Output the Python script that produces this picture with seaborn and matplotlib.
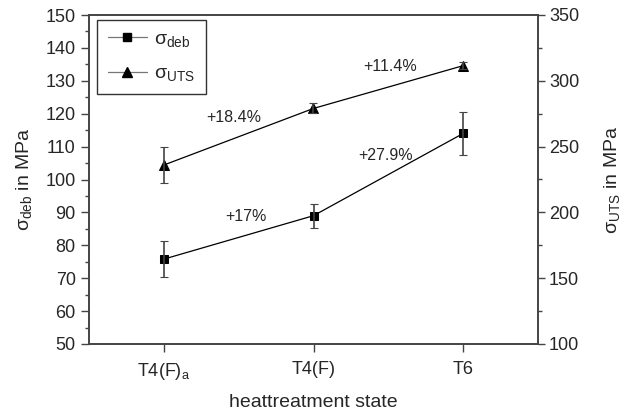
import matplotlib
matplotlib.use("Agg")
import matplotlib.pyplot as plt
import seaborn as sns
import pandas as pd
import numpy as np
from matplotlib.lines import Line2D
from matplotlib.ticker import MultipleLocator

sns.set_style("ticks")
plt.rcParams['font.family'] = ['Liberation Sans', 'DejaVu Sans']
plt.rcParams['mathtext.fontset'] = 'custom'
plt.rcParams['mathtext.rm'] = 'Liberation Sans'
plt.rcParams['mathtext.it'] = 'Liberation Sans:italic'

states = ["T4(F)$_{\\mathregular{a}}$", "T4(F)", "T6"]
sigma_deb = [75.8, 89.0, 114.0]
sigma_deb_err = [5.5, 3.6, 6.6]
sigma_uts = [236.0, 279.0, 311.5]
sigma_uts_err = [14.0, 3.8, 2.5]
deb_labels = ["+17%", "+27.9%"]
uts_labels = ["+18.4%", "+11.4%"]

df = pd.DataFrame({"state": states, "deb": sigma_deb, "deb_err": sigma_deb_err,
                   "uts": sigma_uts, "uts_err": sigma_uts_err})
df["pos"] = np.arange(len(df))

fig = plt.figure(figsize=(6.34, 4.16), dpi=100)
ax = fig.add_axes([89/634, 1-344/416, (538-89)/634, (344-15)/416])
ax2 = ax.twinx()

sns.lineplot(data=df, x="pos", y="deb", ax=ax, color="black", lw=0.9,
             marker="s", markersize=6, markeredgecolor="black", legend=False)
ax.errorbar(df["pos"], df["deb"], yerr=df["deb_err"], fmt="none",
            ecolor="#444444", elinewidth=1.2, capsize=3, capthick=0.8)

sns.lineplot(data=df, x="pos", y="uts", ax=ax2, color="black", lw=0.9,
             marker="^", markersize=7, markeredgecolor="black", legend=False)
ax2.errorbar(df["pos"], df["uts"], yerr=df["uts_err"], fmt="none",
             ecolor="#444444", elinewidth=1.2, capsize=3, capthick=0.8)

ax.set_xlim(-0.5, 2.5)
ax.set_ylim(50, 150)
ax2.set_ylim(100, 350)
ax.set_xticks(df["pos"])
ax.set_xticklabels(df["state"])
ax.yaxis.set_major_locator(MultipleLocator(10))
ax.yaxis.set_minor_locator(MultipleLocator(5))
ax2.yaxis.set_major_locator(MultipleLocator(50))
ax2.yaxis.set_minor_locator(MultipleLocator(25))

fs = 13
ax.tick_params(axis="x", which="major", direction="out", length=6, width=1,
               labelsize=fs, color="#444444", pad=6)
ax.tick_params(axis="y", which="major", direction="out", length=5.5, width=1,
               labelsize=fs, color="#444444", pad=4)
ax.tick_params(axis="y", which="minor", direction="out", length=3, width=1,
               color="#444444")
ax2.tick_params(axis="y", which="major", direction="out", length=5, width=1,
                labelsize=fs, color="#444444", pad=3)
ax2.tick_params(axis="y", which="minor", direction="out", length=3, width=1,
                color="#444444")
for a in (ax, ax2):
    for s in a.spines.values():
        s.set_visible(True)
        s.set_color("#444444")
        s.set_linewidth(1.2)

ax.set_xlabel("heattreatment state", fontsize=14, labelpad=9)
ax.set_ylabel("σ$_{\\mathregular{deb}}$ in MPa", fontsize=14, labelpad=8)
ax2.set_ylabel("σ$_{\\mathregular{UTS}}$ in MPa", fontsize=14, labelpad=16)

# percentage annotations
ax.text(0.55, 88.8, deb_labels[0], fontsize=11.5, ha="center", va="center")
ax.text(1.48, 107.3, deb_labels[1], fontsize=11.5, ha="center", va="center")
ax.text(0.47, 118.8, uts_labels[0], fontsize=11.5, ha="center", va="center")
ax.text(1.51, 134.4, uts_labels[1], fontsize=11.5, ha="center", va="center")

handles = [
    Line2D([], [], color="#777777", lw=0.9, marker="s", markersize=6,
           markerfacecolor="black", markeredgecolor="black"),
    Line2D([], [], color="#777777", lw=0.9, marker="^", markersize=7,
           markerfacecolor="black", markeredgecolor="black"),
]
leg = ax.legend(handles, ["σ$_{\\mathregular{deb}}$", "σ$_{\\mathregular{UTS}}$"],
                loc="upper left", bbox_to_anchor=(8/449, 324/329),
                borderaxespad=0, fontsize=14,
                frameon=True, fancybox=False, edgecolor="black",
                handlelength=2.0, handletextpad=0.4, borderpad=0.55,
                labelspacing=0.8)
leg.get_frame().set_linewidth(1.0)

fig.savefig("out.png", dpi=100)
